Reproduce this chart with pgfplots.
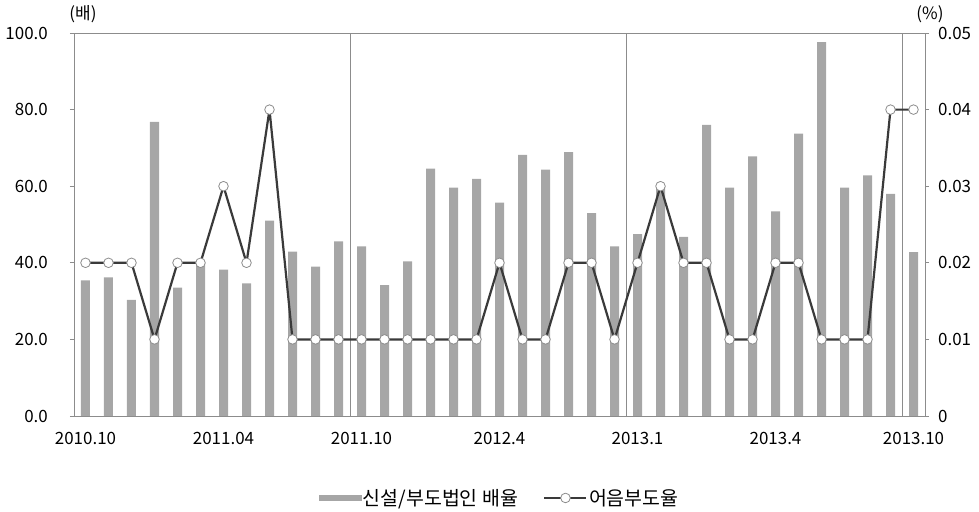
\documentclass[border=0pt]{standalone}
\usepackage{fontspec}
\setmainfont{Noto Sans CJK KR}
\usepackage{pgfplots}
\usepackage{pgfplotstable}
\pgfplotsset{compat=1.18}
\definecolor{barcol}{HTML}{A6A6A6}
\definecolor{linecol}{HTML}{3A3A3A}
\definecolor{axcol}{HTML}{8C8C8C}
\definecolor{mkcol}{HTML}{8C8C8C}

\pgfplotstableread{
x y
0 35.4
1 36.2
2 30.3
3 76.8
4 33.5
5 40.0
6 38.2
7 34.6
8 51.0
9 42.9
10 39.0
11 45.6
12 44.3
13 34.2
14 40.4
15 64.6
16 59.6
17 61.9
18 55.7
19 68.2
20 64.3
21 68.9
22 53.0
23 44.3
24 47.5
25 60.0
26 46.8
27 76.0
28 59.6
29 67.8
30 53.4
31 73.7
32 97.6
33 59.6
34 62.8
35 58.0
36 42.8
}\bardata

\pgfplotstableread{
x r
0 0.02
1 0.02
2 0.02
3 0.01
4 0.02
5 0.02
6 0.03
7 0.02
8 0.04
9 0.01
10 0.01
11 0.01
12 0.01
13 0.01
14 0.01
15 0.01
16 0.01
17 0.01
18 0.02
19 0.01
20 0.01
21 0.02
22 0.02
23 0.01
24 0.02
25 0.03
26 0.02
27 0.02
28 0.01
29 0.01
30 0.02
31 0.02
32 0.01
33 0.01
34 0.01
35 0.04
36 0.04
}\ratedata

\begin{document}
\begin{tikzpicture}
\path[use as bounding box] (-74bp,-96bp) rectangle (905bp,416bp);
\pgfplotsset{every axis/.append style={
  scale only axis, width=851bp, height=383bp,
  xmin=-0.5, xmax=36.5,
  at={(0,0)}, anchor=south west,
  axis line style={axcol, line width=0.8bp},
  tick style={axcol, line width=0.8bp},
  tick align=outside, major tick length=4bp,
  tick label style={font=\fontsize{17}{20}\selectfont, text=black},
}}
\begin{axis}[
  ymin=0, ymax=100,
  ytick={0,20,40,60,80,100},
  yticklabels={0.0,20.0,40.0,60.0,80.0,100.0},
  ytick pos=left,
  yticklabel style={inner sep=0pt, xshift=-22bp},
  xtick={0,6,12,18,24,30,36},
  xticklabels={2010.10,2011.04,2011.10,2012.4,2013.1,2013.4,2013.10},
  xtick pos=bottom,
  xtick style={draw=none},
  xticklabel style={inner sep=0pt, yshift=-12bp},
  extra x ticks={-0.5,11.5,23.5,35.5},
  extra x tick labels={},
  extra x tick style={grid=major, major grid style={axcol, line width=0.8bp}, tick style={axcol, line width=0.8bp, draw=axcol}},
]
\addplot[ybar, bar width=9bp, fill=barcol, draw=none] table[x=x,y=y]{\bardata};
\end{axis}
\begin{axis}[
  ymin=0, ymax=0.05,
  scaled y ticks=false,
  ytick={0,0.01,0.02,0.03,0.04,0.05},
  yticklabels={0,0.01,0.02,0.03,0.04,0.05},
  axis x line=none,
  axis y line*=right,
  ytick pos=right,
  yticklabel style={inner sep=0pt, xshift=9bp},
  legend columns=2,
  legend style={at={(0.5,-0.214)}, anchor=center, draw=none, fill=none,
    font=\fontsize{19.5}{22}\selectfont, inner sep=0pt,
    nodes={inner sep=1.5bp},
    /tikz/every even column/.append style={column sep=24bp}},
]
\addlegendimage{legend image code/.code={\fill[barcol] (0bp,-2.5bp) rectangle (42bp,2.5bp);}}
\addlegendentry{신설/부도법인 배율}
\addplot[linecol, line width=2.2bp, line join=round, mark=*, mark size=4.8bp,
  mark options={fill=white, draw=mkcol, line width=0.8bp},
  legend image code/.code={\draw[linecol, line width=2.2bp, mark=*, mark size=4.8bp, mark options={fill=white, draw=mkcol, line width=0.8bp}, mark repeat=2, mark phase=2] plot coordinates {(0bp,0bp) (21bp,0bp) (42bp,0bp)};}]
  table[x=x,y=r]{\ratedata};
\addlegendentry{어음부도율}
\end{axis}
\node[font=\fontsize{17}{20}\selectfont] at (9bp,402bp) {(배)};
\node[font=\fontsize{17}{20}\selectfont] at (856bp,402bp) {(\%)};
\end{tikzpicture}
\end{document}
